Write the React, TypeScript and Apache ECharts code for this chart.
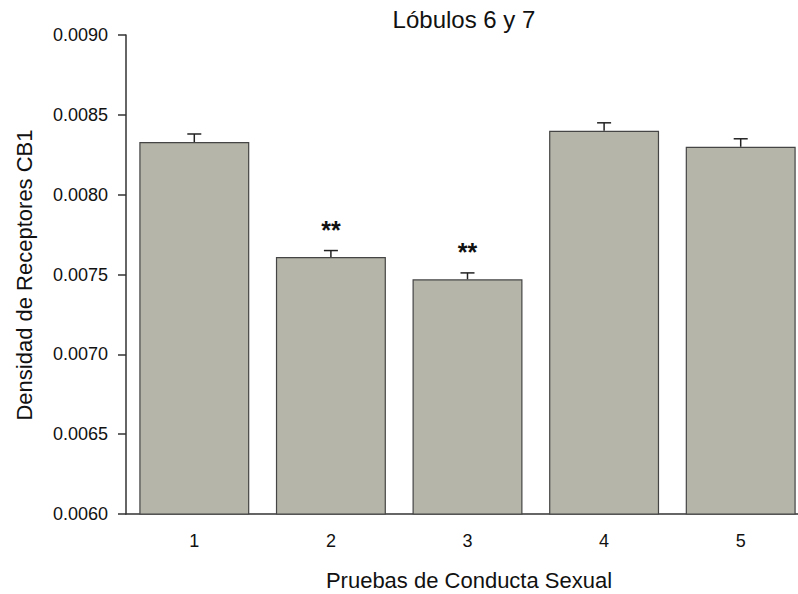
import React, { useEffect, useRef } from "react";
import * as echarts from "echarts";

const categories = ["1", "2", "3", "4", "5"];
const means = [0.00833, 0.00761, 0.00747, 0.0084, 0.0083];
const errors = [0.00005, 0.00004, 0.00004, 0.00005, 0.00005];
const significance = ["", "**", "**", "", ""];
const yTicks = [0.006, 0.0065, 0.007, 0.0075, 0.008, 0.0085, 0.009];

const FONT = "'Liberation Sans', Arial, sans-serif";

export default function App() {
  const ref = useRef<HTMLDivElement>(null);
  useEffect(() => {
    if (!ref.current) return;
    const chart = echarts.init(ref.current, null, { renderer: "svg" });
    const errData = categories.map((c, i) => [i, means[i], means[i] + errors[i], significance[i]]);
    chart.setOption({
      animation: false,
      backgroundColor: "#ffffff",
      textStyle: { fontFamily: FONT },
      grid: { left: 126, top: 35, width: 683, height: 479, containLabel: false, outerBoundsMode: "none" },
      graphic: [
        {
          type: "text",
          x: 464,
          y: 19,
          style: { text: "Lóbulos 6 y 7", font: `24px ${FONT}`, fill: "#111", align: "center", verticalAlign: "middle" },
        },
        {
          type: "text",
          x: 469,
          y: 580,
          style: { text: "Pruebas de Conducta Sexual", font: `22px ${FONT}`, fill: "#111", align: "center", verticalAlign: "middle" },
        },
        {
          type: "text",
          x: 24,
          y: 275,
          rotation: Math.PI / 2,
          style: { text: "Densidad de Receptores CB1", font: `22px ${FONT}`, fill: "#111", align: "center", verticalAlign: "middle" },
        },
      ],
      xAxis: {
        type: "category",
        data: categories,
        axisLine: { lineStyle: { color: "#333", width: 1.5 } },
        axisTick: { alignWithLabel: true, length: 7, lineStyle: { color: "#333", width: 1.5 } },
        axisLabel: { fontSize: 18, color: "#111", margin: 18, fontFamily: FONT },
      },
      yAxis: {
        type: "value",
        min: 0.006,
        max: 0.009,
        interval: 0.0005,
        splitLine: { show: false },
        axisLine: { show: true, lineStyle: { color: "#333", width: 1.5 } },
        axisTick: { show: true, length: 8, lineStyle: { color: "#333", width: 1.5 } },
        axisLabel: {
          fontSize: 18,
          color: "#111",
          margin: 18,
          fontFamily: FONT,
          formatter: (v: number) => {
            const t = yTicks.find((y) => Math.abs(y - v) < 1e-9);
            return (t !== undefined ? t : v).toFixed(4);
          },
        },
      },
      series: [
        {
          type: "bar",
          data: means,
          barCategoryGap: "19.5%",
          itemStyle: { color: "#b5b5a9", borderColor: "#454545", borderWidth: 1.2 },
        },
        {
          type: "custom",
          data: errData,
          z: 5,
          renderItem: (params: any, api: any) => {
            const base = api.coord([api.value(0), api.value(1)]);
            const top = api.coord([api.value(0), api.value(2)]);
            const sig = errData[params.dataIndex][3] as string;
            const half = 7;
            const children: any[] = [
              { type: "line", shape: { x1: base[0], y1: base[1], x2: top[0], y2: top[1] }, style: { stroke: "#222", lineWidth: 1.5 } },
              { type: "line", shape: { x1: top[0] - half, y1: top[1], x2: top[0] + half, y2: top[1] }, style: { stroke: "#222", lineWidth: 1.5 } },
            ];
            if (sig) {
              children.push({
                type: "text",
                x: top[0],
                y: top[1] - 21,
                style: { text: sig, font: `bold 25px ${FONT}`, fill: "#111", align: "center", verticalAlign: "middle" },
              });
            }
            return { type: "group", children };
          },
        },
      ],
    });
    return () => chart.dispose();
  }, []);
  return <div ref={ref} style={{ position: "fixed", left: 0, top: 0, width: 798, height: 594 }} />;
}
